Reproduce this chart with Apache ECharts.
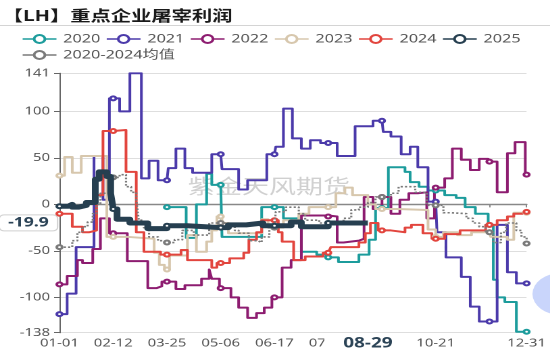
<!DOCTYPE html>
<html>
<head>
<meta charset="UTF-8">
<title>【LH】重点企业屠宰利润</title>
<script src="https://cdn.jsdelivr.net/npm/echarts@6/dist/echarts.min.js"></script>
<style>
  html, body { margin: 0; padding: 0; background: #fff; overflow: hidden; }
  /* the reference picture is stretched sideways, so draw narrow and stretch */
  #main { width: 407px; height: 354px; transform: scaleX(1.3514); transform-origin: 0 0; }
</style>
</head>
<body>
<div id="main"></div>
<script type="text/javascript">
// ---- categories: month-day of a leap year ----
var monthDays = [31, 29, 31, 30, 31, 30, 31, 31, 30, 31, 30, 31];
var dates = [];
function pad(n) { return (n < 10 ? '0' : '') + n; }
for (var m = 0; m < 12; m++) {
  for (var d = 1; d <= monthDays[m]; d++) dates.push(pad(m + 1) + '-' + pad(d));
}
// labelled days (09-09 and 12-02 exist but their text is hidden in the picture)
var labelDates = ['01-01', '02-12', '03-25', '05-06', '06-17', '07-29', '09-09', '10-21', '12-02', '12-31'];
var hiddenLabels = ['09-09', '12-02'];

var yMin = -138, yMax = 141;
var pointerDate = '08-29', pointerValue = -19.9;

// ---- series: [date, value], value holds until next date ----
var s2020 = [['03-25', -3], ['04-09', -36], ['04-17', 0], ['04-25', 33], ['04-29', 21], ['05-06', 21],
  ['05-07', -35], ['06-07', -3], ['06-17', -3], ['06-24', -15], ['07-08', -51], ['07-20', -54],
  ['07-29', -57], ['08-06', -62], ['08-22', -54], ['08-30', -38], ['09-04', -4], ['09-09', -4],
  ['09-14', 40], ['09-27', 35], ['10-01', 24], ['10-08', 19], ['10-15', 15], ['10-21', 15],
  ['10-28', 10], ['11-06', 7], ['11-13', -3], ['11-21', -10], ['12-01', -22], ['12-02', -22],
  ['12-05', -81], ['12-08', -100], ['12-14', -105], ['12-23', -137], ['12-31', -137]];

var s2021 = [['01-01', -118], ['01-07', -96], ['01-14', -46], ['01-28', 52], ['02-04', 5], ['02-09', 114],
  ['02-12', 114], ['02-17', 100], ['02-25', 141], ['03-05', 28], ['03-11', 47], ['03-18', 26],
  ['03-25', 26], ['03-26', 39], ['04-01', 60], ['04-08', 39], ['04-14', 34], ['04-29', 54],
  ['05-06', 54], ['05-07', 38], ['05-20', 16], ['05-27', 26], ['06-11', 54], ['06-17', 54],
  ['06-18', 62], ['06-24', 103], ['07-01', 71], ['07-08', 60], ['07-15', 69], ['07-23', 66],
  ['07-29', 66], ['08-05', 52], ['08-19', 84], ['09-02', 90], ['09-09', 90], ['09-10', 78],
  ['09-16', 73], ['09-24', 54], ['10-01', 62], ['10-07', 40], ['10-15', 3], ['10-21', 3],
  ['10-22', -30], ['10-29', -57], ['11-10', -78], ['11-17', -110], ['11-24', -126], ['12-02', -126],
  ['12-08', -22], ['12-16', -73], ['12-23', -85], ['12-31', -85]];

var s2022 = [['01-01', -86], ['01-07', -77], ['01-15', -60], ['01-19', -63], ['01-27', -48], ['02-02', -15],
  ['02-09', -31], ['02-12', -31], ['02-23', -61], ['03-10', -90], ['03-17', -88], ['03-21', -83],
  ['03-25', -83], ['04-01', -91], ['04-08', -87], ['04-21', -80], ['04-27', -70], ['04-29', -80],
  ['05-05', -90], ['05-06', -90], ['05-14', -100], ['05-20', -111], ['05-27', -122], ['06-03', -117],
  ['06-09', -111], ['06-15', -100], ['06-17', -100], ['06-23', -68], ['06-30', -60], ['07-08', -12],
  ['07-29', -13], ['08-05', -41], ['08-10', -39], ['08-22', -37], ['08-26', 8], ['09-02', -5],
  ['09-09', 8], ['09-16', -10], ['09-23', 5], ['09-30', 12], ['10-07', 13], ['10-14', -15],
  ['10-20', 18], ['10-21', 18], ['10-28', 28], ['11-03', 60], ['11-10', 48], ['11-17', 37],
  ['11-24', 49], ['12-01', 46], ['12-02', 46], ['12-08', 13], ['12-16', 55], ['12-22', 67],
  ['12-30', 32], ['12-31', 32]];

var s2023 = [['01-01', 31], ['01-05', 51], ['01-11', 34], ['01-18', 52], ['02-07', -35], ['02-12', -35],
  ['02-24', -37], ['03-15', -52], ['03-19', -65], ['03-23', -70], ['03-25', -70], ['03-27', -55],
  ['04-10', -33], ['04-17', -51], ['04-25', -40], ['04-29', -28], ['05-03', -13], ['05-06', -13],
  ['05-08', -20], ['05-12', -31], ['06-07', -16], ['06-12', -25], ['06-17', -25], ['06-24', -17],
  ['07-06', -10], ['07-14', -3], ['07-29', -3], ['08-04', 12], ['08-11', 18], ['08-17', 10],
  ['08-29', 0], ['09-04', -5], ['09-09', -5], ['09-21', -6], ['10-15', -27], ['10-21', -35],
  ['10-27', -30], ['11-07', -33], ['11-18', -30], ['12-02', -30], ['12-03', -35], ['12-16', -38],
  ['12-21', -9], ['12-31', -9]];

var s2024 = [['01-01', -10], ['01-11', -24], ['01-19', -30], ['01-24', -28], ['01-30', 10], ['02-04', 79],
  ['02-12', 79], ['02-13', 80], ['02-22', 35], ['03-01', -30], ['03-07', -51], ['03-20', -54],
  ['03-25', -54], ['04-05', -49], ['04-10', -60], ['04-29', -68], ['05-03', -63], ['05-06', -63],
  ['05-13', -58], ['05-24', -52], ['05-28', -38], ['06-03', -30], ['06-07', -17], ['06-17', -17],
  ['06-20', -30], ['06-23', -40], ['07-02', -60], ['07-11', -56], ['07-25', -52], ['07-29', -52],
  ['07-31', -46], ['08-22', -41], ['08-27', -31], ['08-31', -20], ['09-06', -28], ['09-09', -28],
  ['09-16', -30], ['09-27', -25], ['10-02', -22], ['10-11', -31], ['10-18', -37], ['10-21', -37],
  ['10-28', -32], ['11-09', -28], ['11-29', -22], ['12-02', -22], ['12-08', -17], ['12-16', -13],
  ['12-21', -10], ['12-28', -8], ['12-31', -8]];

var s2025 = [['01-01', -2], ['01-08', 0], ['01-11', -3], ['01-16', -1], ['01-22', 2], ['01-29', 27],
  ['02-01', 35], ['02-07', 30], ['02-10', 12], ['02-12', -5], ['02-15', -16], ['02-25', -20],
  ['03-10', -26], ['03-25', -23], ['04-10', -25], ['05-06', -25], ['05-12', -22], ['05-26', -20],
  ['06-08', -23], ['06-17', -23], ['06-30', -19], ['07-08', -24], ['07-29', -20], ['08-29', -19.9]];

var sAvg = [['01-01', -46], ['01-11', -39], ['01-15', -30], ['01-19', -24], ['01-23', -19], ['01-27', -10],
  ['01-30', 0], ['02-02', 12], ['02-09', 29], ['02-12', 29], ['02-17', 32], ['02-22', 19],
  ['02-26', 13], ['03-01', 5], ['03-03', -17], ['03-07', -25], ['03-11', -35], ['03-18', -39],
  ['03-22', -41], ['03-25', -41], ['03-31', -38], ['04-06', -28], ['04-15', -33], ['04-27', -20],
  ['05-06', -20], ['05-09', -22], ['05-17', -28], ['05-20', -31], ['05-28', -39], ['06-04', -41],
  ['06-07', -35], ['06-13', -25], ['06-17', -25], ['06-18', -8], ['06-26', -3], ['07-06', -10],
  ['07-11', -17], ['07-22', -20], ['07-29', -20], ['08-06', -20], ['08-10', -15], ['08-16', -6],
  ['08-22', -3], ['08-29', 2], ['09-04', 8], ['09-09', 8], ['09-16', 12], ['09-22', 19],
  ['10-05', 13], ['10-14', -1], ['10-21', -1], ['10-27', -9], ['11-02', -10], ['11-14', -15],
  ['11-19', -20], ['11-24', -24], ['11-29', -30], ['12-02', -30], ['12-05', -41], ['12-11', -30],
  ['12-15', -20], ['12-23', -28], ['12-27', -35], ['12-31', -42]];

var seriesNames = ['2020', '2021', '2022', '2023', '2024', '2025', '2020-2024均值'];
var seriesData = [s2020, s2021, s2022, s2023, s2024, s2025, sAvg];
var colors = ['#1c9c9c', '#4b3aaa', '#8d1c70', '#d7c7ad', '#e2453e', '#263f50', '#7a7a7a'];

var FONT = '"Noto Sans", "Noto Sans CJK SC", sans-serif';

var myChart = echarts.init(document.getElementById('main'), null, { renderer: 'canvas', devicePixelRatio: 2 });

var series = seriesData.map(function (data, i) {
  var isAvg = i === 6, is2025 = i === 5;
  return {
    name: seriesNames[i],
    type: 'line',
    xAxisIndex: 0,
    data: data,
    step: 'end',
    symbol: 'emptyCircle',
    symbolSize: 4,
    showSymbol: true,
    lineStyle: { color: colors[i], width: is2025 ? 5 : (isAvg ? 1.6 : 2), type: isAvg ? 'dotted' : 'solid', join: 'round' },
    itemStyle: { color: colors[i] },
    z: is2025 ? 5 : (isAvg ? 4 : 2),
    animation: false
  };
});

function showLabel(idx, value) { return labelDates.indexOf(value) >= 0; }

var option = {
  animation: false,
  textStyle: { fontFamily: FONT },
  color: colors,
  title: {
    text: '【LH】重点企业屠宰利润',
    left: -3, top: 3,
    textStyle: { fontSize: 15, fontWeight: 'bold', color: '#1a1a1a', fontFamily: '"Noto Sans CJK SC", sans-serif' }
  },
  legend: {
    data: seriesNames,
    left: 11, right: 8, top: 28,
    itemWidth: 25, itemHeight: 10, itemGap: 4,
    lineStyle: { type: 'solid', width: 1.5 },
    textStyle: { fontSize: 12, color: '#555', fontFamily: FONT }
  },
  graphic: [
    { type: 'line', shape: { x1: 0, y1: 25.5, x2: 407, y2: 25.5 }, style: { stroke: '#d4d4d4', lineWidth: 1 } },
    { type: 'text', left: 139, top: 176, z: -1,
      style: { text: '紫金天风期货', fontSize: 20, fill: 'rgba(150,150,150,0.45)', fontFamily: '"Noto Sans CJK SC", sans-serif' } },
    { type: 'circle', shape: { cx: 415, cy: 294, r: 21 }, style: { fill: '#c9d5fb' }, z: 10 }
  ],
  grid: { left: 44, right: 15.6, top: 73.3, bottom: 21.3 },
  xAxis: [
    {
      type: 'category', data: dates, boundaryGap: false,
      axisLine: { show: false, onZero: false },
      axisTick: { show: false },
      axisLabel: {
        interval: showLabel, fontSize: 11, color: '#555', margin: 5,
        formatter: function (v) { return hiddenLabels.indexOf(v) >= 0 ? '' : v; }
      },
      splitLine: { show: false },
      axisPointer: {
        show: true, type: 'line', status: 'show', value: dates.indexOf(pointerDate),
        triggerTooltip: false, lineStyle: { opacity: 0 },
        label: { show: true, color: '#2b4356', fontWeight: 'bold', fontSize: 14, backgroundColor: '#fff',
          padding: [1, 14], margin: 3, fontFamily: FONT }
      }
    },
    {
      type: 'category', data: dates, boundaryGap: false, position: 'bottom',
      axisLine: { show: true, onZero: true, lineStyle: { color: '#888', width: 1.4 } },
      axisTick: { show: true, interval: showLabel, length: 3, lineStyle: { color: '#888' } },
      axisLabel: { show: false },
      splitLine: { show: false }
    }
  ],
  yAxis: {
    type: 'value', min: yMin, max: yMax,
    axisLine: { show: true, lineStyle: { color: '#666' } },
    axisTick: { show: true, length: 4, lineStyle: { color: '#666' } },
    axisLabel: { fontSize: 11, color: '#555', margin: 7 },
    splitLine: { show: true, lineStyle: { color: '#dedede' } },
    axisPointer: {
      show: true, type: 'line', status: 'show', value: pointerValue,
      triggerTooltip: false, lineStyle: { opacity: 0 },
      label: { show: true, color: '#2b4356', fontWeight: 'bold', fontSize: 13, backgroundColor: '#fff',
        borderColor: '#d0d0d0', borderWidth: 1, borderRadius: 3, padding: [1, 6], margin: 3,
        formatter: function (p) { return Number(p.value).toFixed(1); } }
    }
  },
  series: series
};

myChart.setOption(option);
</script>
</body>
</html>
